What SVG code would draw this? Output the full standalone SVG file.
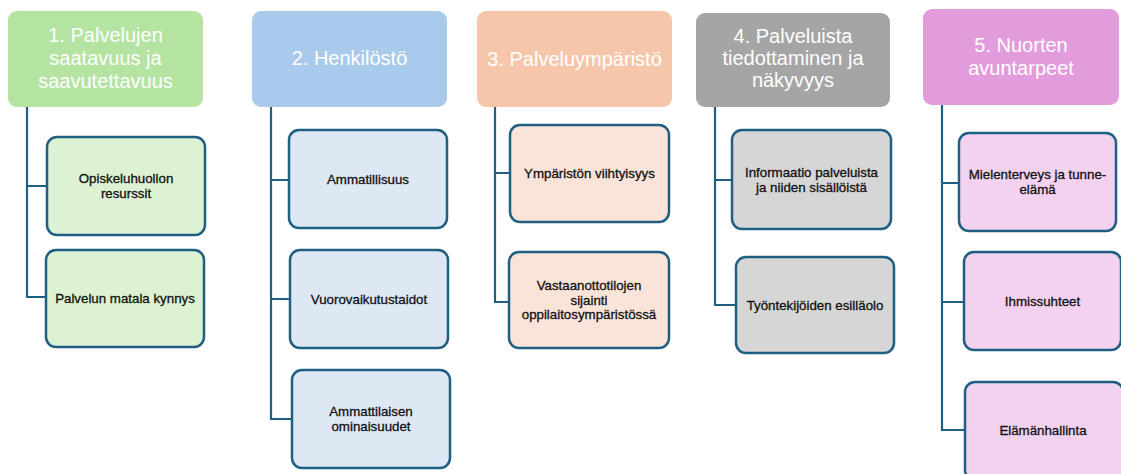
<svg xmlns="http://www.w3.org/2000/svg" width="1121" height="474" viewBox="0 0 1121 474">
<style>
.hd{stroke:none}
.ch{stroke:#1F5F82;stroke-width:2.5}
.ht{font-family:"Liberation Sans",Arial,sans-serif;font-size:20px;fill:#ffffff;text-anchor:middle}
.ct{font-family:"Liberation Sans",Arial,sans-serif;font-size:13.3px;fill:#111111;stroke:#111111;stroke-width:0.3;text-anchor:middle}
.cn{fill:none;stroke:#1F5F82;stroke-width:2.2}
</style>
<rect width="1121" height="474" fill="#ffffff"/>
<g id="connectors">
<path class="cn" d="M27,107 V297 H47 M27,186 H47"/>
<path class="cn" d="M271,107 V419 H292 M271,180 H289 M271,299 H290"/>
<path class="cn" d="M495,107 V302 H509 M495,173 H510"/>
<path class="cn" d="M715,107 V305 H736 M715,180 H732"/>
<path class="cn" d="M942,105 V430 H965 M942,183 H959 M942,302 H964"/>
</g>
<g id="h1"><rect class="hd" x="8" y="11" width="195" height="96" rx="9" fill="#B4E3A2"/>
<text class="ht"><tspan x="105.5" y="42">1. Palvelujen</tspan><tspan x="105.5" y="65">saatavuus ja</tspan><tspan x="105.5" y="88">saavutettavuus</tspan></text></g>
<g id="c1a"><rect class="ch" x="47" y="137" width="158" height="98" rx="10" fill="#DDF2D3"/>
<text class="ct"><tspan x="126" y="183">Opiskeluhuollon</tspan><tspan x="126" y="198">resurssit</tspan></text></g>
<g id="c1b"><rect class="ch" x="46" y="250" width="158" height="97" rx="10" fill="#DDF2D3"/>
<text class="ct" x="125" y="303">Palvelun matala kynnys</text></g>

<g id="h2"><rect class="hd" x="252" y="11" width="195" height="96" rx="9" fill="#A9CAEB"/>
<text class="ht" x="349.5" y="65">2. Henkilöstö</text></g>
<g id="c2a"><rect class="ch" x="289" y="130" width="158" height="98" rx="10" fill="#DEE8F5"/>
<text class="ct" x="368" y="183.5">Ammatillisuus</text></g>
<g id="c2b"><rect class="ch" x="290" y="250" width="158" height="98" rx="10" fill="#DEE8F5"/>
<text class="ct" x="369" y="303.5">Vuorovaikutustaidot</text></g>
<g id="c2c"><rect class="ch" x="292" y="370" width="158" height="98" rx="10" fill="#DEE8F5"/>
<text class="ct"><tspan x="371" y="416">Ammattilaisen</tspan><tspan x="371" y="431">ominaisuudet</tspan></text></g>

<g id="h3"><rect class="hd" x="477" y="11" width="195" height="96" rx="9" fill="#F6C6AB"/>
<text class="ht" x="574.5" y="66">3. Palveluympäristö</text></g>
<g id="c3a"><rect class="ch" x="510" y="125" width="159" height="97" rx="10" fill="#FAE3D8"/>
<text class="ct" x="589.5" y="178">Ympäristön viihtyisyys</text></g>
<g id="c3b"><rect class="ch" x="509" y="252" width="160" height="96" rx="10" fill="#FAE3D8"/>
<text class="ct"><tspan x="589" y="290">Vastaanottotilojen</tspan><tspan x="589" y="304.5">sijainti</tspan><tspan x="589" y="319">oppilaitosympäristössä</tspan></text></g>

<g id="h4"><rect class="hd" x="696" y="13" width="194" height="94" rx="9" fill="#A5A5A5"/>
<text class="ht"><tspan x="793" y="43">4. Palveluista</tspan><tspan x="793" y="65">tiedottaminen ja</tspan><tspan x="793" y="87">näkyvyys</tspan></text></g>
<g id="c4a"><rect class="ch" x="732" y="130" width="159" height="99" rx="10" fill="#D6D6D6"/>
<text class="ct"><tspan x="811.5" y="177">Informaatio palveluista</tspan><tspan x="811.5" y="192">ja niiden sisällöistä</tspan></text></g>
<g id="c4b"><rect class="ch" x="736" y="257" width="158" height="96" rx="10" fill="#D6D6D6"/>
<text class="ct" x="815" y="309.5">Työntekijöiden esilläolo</text></g>

<g id="h5"><rect class="hd" x="923" y="9" width="196" height="96" rx="9" fill="#E29CDB"/>
<text class="ht"><tspan x="1021" y="51.5">5. Nuorten</tspan><tspan x="1021" y="74.5">avuntarpeet</tspan></text></g>
<g id="c5a"><rect class="ch" x="959" y="133" width="157" height="98" rx="10" fill="#F2D2EF"/>
<text class="ct"><tspan x="1037.5" y="179">Mielenterveys ja tunne-</tspan><tspan x="1037.5" y="194">elämä</tspan></text></g>
<g id="c5b"><rect class="ch" x="964" y="252" width="157" height="98" rx="10" fill="#F2D2EF"/>
<text class="ct" x="1042.5" y="305.5">Ihmissuhteet</text></g>
<g id="c5c"><rect class="ch" x="965" y="382" width="158" height="98" rx="10" fill="#F2D2EF"/>
<text class="ct" x="1043" y="435">Elämänhallinta</text></g>
</svg>
